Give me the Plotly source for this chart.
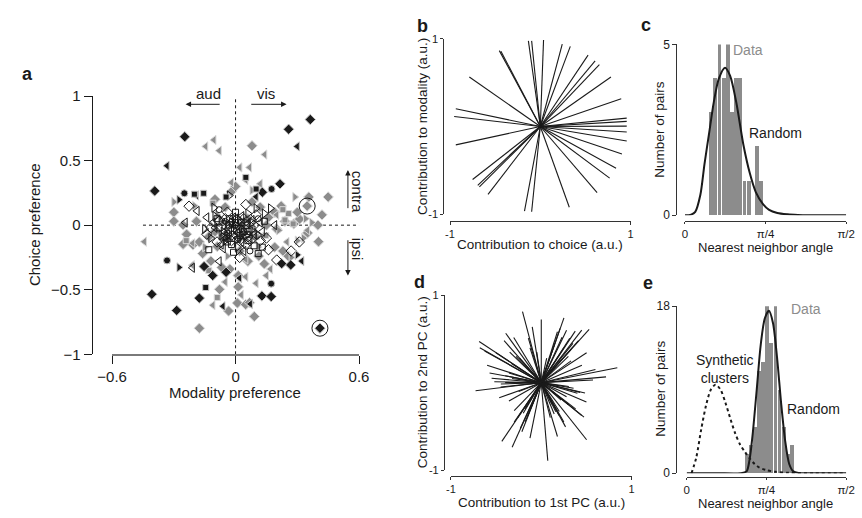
import plotly.graph_objects as go

W, H = 862, 518
FONT = "Liberation Sans, Arial, sans-serif"
INK = "#1a1a1a"
GREY = "#8c8c8c"


def fx(p):
    return p / W


def fy(p):
    return 1 - p / H


# ---------------- panel a: modality vs choice preference ----------------
gray_diamond_x = [0.080, 0.450, 0.356, 0.348, 0.403, 0.311, 0.283, 0.222, 0.190, 0.160,
                  -0.176, -0.078, -0.034, 0.009, 0.091, 0.049, -0.255, -0.255, -0.207, -0.238,
                  -0.176, -0.089, -0.120, -0.067, -0.028, 0.013, 0.113, 0.230, 0.256, 0.190,
                  0.350, 0.150, 0.200, 0.080, 0.120, -0.020, 0.000, -0.050, 0.060, -0.100,
                  -0.130, -0.040, 0.020, 0.060, -0.160, 0.140, -0.190, -0.100, 0.420, 0.300,
                  0.240, 0.013, 0.068, -0.300, -0.300, 0.400]
gray_diamond_y = [0.615, 0.218, 0.218, 0.148, -0.128, 0.047, 0.010, 0.148, 0.100, 0.060,
                  -0.798, -0.497, -0.665, -0.603, -0.707, -0.615, 0.002, -0.148, -0.153, -0.070,
                  -0.130, -0.165, -0.278, -0.327, -0.340, -0.390, -0.240, -0.200, -0.240, -0.170,
                  -0.060, 0.000, -0.030, 0.180, 0.140, 0.260, 0.300, 0.140, 0.050, -0.050,
                  -0.090, -0.100, -0.200, -0.280, -0.220, -0.300, 0.030, 0.200, 0.080, 0.100,
                  0.030, -0.478, -0.600, 0.100, 0.030, 0.000]

gray_tl_x = [-0.105, -0.145, -0.079, 0.142, 0.021, 0.068, -0.443, -0.208, 0.050, 0.150,
             0.050, 0.350, 0.028, -0.020, 0.050, 0.170, 0.250, 0.100, -0.050, 0.200,
             -0.110, -0.210, 0.120]
gray_tl_y = [0.660, 0.610, 0.577, 0.547, 0.447, 0.447, -0.128, -0.140, -0.400, -0.390,
             -0.265, -0.040, -0.540, 0.330, 0.350, -0.340, -0.130, -0.450, -0.440, 0.080,
             -0.620, -0.310, 0.320]

gray_tr_x = [0.288, 0.330, 0.370, 0.210, -0.150, -0.300, 0.080, -0.040, 0.270, 0.300,
             -0.200, 0.340, -0.090, 0.110]
gray_tr_y = [0.218, -0.100, 0.020, -0.040, -0.170, 0.180, 0.270, -0.240, -0.250, -0.120,
             0.150, 0.050, 0.080, -0.170]

gray_sq_x = [0.257, 0.280, 0.147, -0.089, -0.130, -0.110, 0.020, 0.230, -0.240, 0.240, 0.100]
gray_sq_y = [0.090, 0.010, -0.080, -0.560, -0.352, 0.170, -0.100, 0.120, -0.120, 0.040, -0.090]

open_tr_x = [-0.105, 0.100, 0.170, -0.030, 0.140, -0.070, 0.050, -0.150, 0.020, 0.090,
             -0.020, 0.030, -0.050, 0.110, -0.100, 0.060, 0.010, -0.120,
             0.000, -0.040, 0.050, 0.020, -0.060, -0.010, 0.040, -0.070, 0.080]
open_tr_y = [0.135, 0.130, 0.130, 0.230, 0.090, 0.040, 0.020, -0.030, -0.100, -0.050,
             0.020, -0.030, -0.120, -0.080, 0.070, 0.090, -0.170, -0.100,
             -0.020, 0.000, -0.080, 0.040, -0.050, -0.040, -0.060, -0.080, 0.020]

open_tl_x = [-0.187, -0.245, -0.140, 0.130, -0.210, -0.100, 0.080, 0.190, -0.060, 0.030,
             -0.080, 0.000, 0.070, -0.030, 0.120, -0.070, 0.040, -0.110,
             0.010, -0.020, 0.060, -0.050, 0.030, 0.020, -0.040, 0.090, -0.010]
open_tl_y = [0.110, 0.020, 0.060, -0.050, -0.330, -0.020, 0.040, 0.000, -0.180, 0.070,
             -0.280, 0.050, -0.100, -0.050, 0.020, -0.150, -0.200, 0.020,
             -0.060, 0.030, 0.010, -0.100, -0.130, -0.020, -0.070, -0.070, 0.060]

open_di_x = [-0.226, 0.050, -0.050, 0.270, 0.200, 0.310, -0.120, 0.120, 0.010, -0.090,
             0.160, 0.100, -0.020, 0.050, -0.080, 0.090, -0.040, 0.020, -0.140, 0.150,
             0.000, -0.030, 0.040, 0.070, -0.070, 0.030, -0.050, 0.060, -0.020]
open_di_y = [0.147, 0.160, -0.080, -0.200, -0.270, -0.130, -0.020, -0.120, 0.030, -0.130,
             -0.190, 0.080, -0.080, -0.150, 0.030, 0.000, 0.100, -0.250, -0.070, -0.100,
             -0.100, -0.030, 0.050, -0.120, -0.010, -0.040, 0.050, -0.090, -0.120]

open_sq_x = [-0.080, 0.060, 0.130, -0.030, 0.040, -0.130, 0.090, 0.140, -0.020, 0.000,
             0.030, -0.060, 0.080, -0.010, 0.110, -0.090,
             0.020, -0.040, 0.050, 0.000, -0.030, 0.060, 0.010]
open_sq_y = [-0.020, -0.120, -0.170, 0.050, -0.050, -0.190, -0.160, 0.030, -0.150, 0.100,
             0.020, -0.090, -0.030, -0.210, -0.220, 0.050,
             -0.080, -0.130, 0.000, 0.020, 0.000, -0.050, -0.110]

open_ci_x = [-0.080, 0.010, 0.110, -0.040, 0.070, 0.000, -0.050, 0.060]
open_ci_y = [0.120, -0.010, 0.050, -0.060, -0.200, 0.000, 0.030, -0.070]

black_diamond_x = [0.363, 0.258, -0.247, -0.393, 0.216, 0.224, 0.268, -0.153, -0.111, -0.046,
                   -0.407, -0.176, -0.286, 0.128, 0.173, 0.410, 0.130]
black_diamond_y = [0.818, 0.743, 0.685, 0.265, 0.320, -0.298, -0.308, -0.320, -0.390, -0.365,
                   -0.535, -0.565, -0.660, -0.548, -0.553, -0.798, 0.255]

black_circle_x = [-0.249, 0.175, -0.333, 0.173]
black_circle_y = [0.247, 0.280, -0.273, -0.453]

black_tl_x = [0.300, -0.333, 0.322, -0.061, 0.072, -0.190, 0.100, 0.020]
black_tl_y = [0.610, 0.460, -0.278, -0.628, -0.610, 0.230, 0.220, -0.410]

black_tr_x = [-0.275, -0.275, 0.300]
black_tr_y = [0.197, -0.327, -0.230]

black_sq_x = [0.050, -0.155, -0.046, 0.100, -0.145, -0.200]
black_sq_y = [0.370, 0.247, 0.218, 0.280, -0.483, 0.240]

circled_x = [0.348, 0.410]
circled_y = [0.148, -0.798]

# ---------------- panel b: choice / modality contributions ----------------
b_x = [-0.132, -0.096, 0.036, 0.243, 0.332, 0.529, 0.607, 0.654, 0.782, 0.896,
       0.957, 0.957, 0.957, 0.957, 0.957, 0.904, 0.839, 0.768, 0.629, 0.321,
       -0.096, -0.175, -0.579, -0.675, -0.693, -0.750, -0.936, -0.954, -0.936, -0.786,
       -0.454, -0.436]
b_y = [0.978, 0.978, 0.989, 0.941, 0.915, 0.815, 0.749, 0.708, 0.565, 0.317,
       0.096, 0.059, 0.004, -0.063, -0.166, -0.314, -0.476, -0.590, -0.756, -0.923,
       -0.974, -0.967, -0.775, -0.690, -0.672, -0.605, -0.210, 0.114, 0.203, 0.565,
       0.867, 0.860]

# ---------------- panel c: nearest-neighbour angles ----------------
c_bin_centers = [0.255, 0.296, 0.336, 0.377, 0.417, 0.458, 0.498, 0.539, 0.579, 0.620,
                 0.660, 0.701, 0.741]
c_bin_counts = [3, 4, 5, 4, 5, 3, 4, 4, 1, 1, 0, 2, 1]
c_rand_angle = [0.0, 0.06, 0.10, 0.15, 0.19, 0.24, 0.28, 0.33, 0.39, 0.44, 0.50, 0.57,
                0.63, 0.69, 0.76, 0.82, 0.90, 1.00, 1.10, 1.20, 1.571]
c_rand_count = [0.0, 0.02, 0.1, 0.6, 1.5, 2.5, 3.3, 4.0, 4.32, 4.08, 3.3, 2.05,
                1.25, 0.68, 0.33, 0.16, 0.07, 0.03, 0.01, 0.0, 0.0]

# ---------------- panel d: PC contributions ----------------
d_x = [-0.208, 0.000, -0.100, 0.251, 0.280, 0.376, 0.448, 0.530, 0.315, 0.412,
       0.502, 0.208, 0.179, 0.842, 0.717, 0.573, 0.430, 0.484, 0.358, 0.305,
       0.473, 0.448, 0.502, 0.179, 0.269, 0.197, 0.161, 0.143, 0.072, -0.125,
       -0.215, -0.323, -0.437, -0.233, -0.179, -0.466, -0.358, -0.251, -0.728, -0.573,
       -0.520, -0.448, -0.323, -0.358, -0.688, -0.681, -0.627, -0.502, -0.412, -0.305,
       -0.394, -0.143, -0.125, -0.300, -0.260, -0.200, -0.120, 0.350, 0.250, 0.300,
       0.450, 0.600, -0.550, -0.400, -0.600, 0.380, 0.300, 0.250, 0.100, 0.400,
       -0.280, -0.330, 0.220, 0.120, -0.050, 0.060, -0.450, 0.330, -0.180, 0.500,
       -0.350, -0.240, 0.150, 0.230, 0.330, -0.150, -0.300, 0.200, 0.280, -0.400]
d_y = [0.812, 0.723, 0.638, 0.742, 0.601, 0.590, 0.601, 0.609, 0.509, 0.480,
       0.343, 0.620, 0.583, 0.170, 0.066, 0.030, -0.111, -0.118, -0.063, -0.044,
       -0.395, -0.376, -0.653, -0.616, -0.506, -0.376, -0.332, -0.358, -0.893, -0.635,
       -0.561, -0.738, -0.672, -0.524, -0.450, -0.173, -0.210, -0.100, -0.092, 0.111,
       0.011, -0.015, 0.048, 0.111, 0.472, 0.399, 0.362, 0.343, 0.480, 0.517,
       0.565, 0.509, 0.399, -0.450, -0.400, -0.350, -0.300, 0.450, 0.400, 0.300,
       0.200, 0.150, 0.050, 0.080, 0.200, -0.300, -0.250, -0.450, -0.400, -0.120,
       0.300, 0.220, -0.200, -0.250, 0.350, 0.280, -0.050, 0.380, -0.300, -0.220,
       0.350, 0.280, 0.450, 0.520, 0.250, -0.380, -0.320, -0.330, -0.160, 0.000]

# ---------------- panel e: nearest-neighbour angles (PCs) ----------------
e_bin_centers = [0.587, 0.628, 0.668, 0.709, 0.749, 0.790, 0.830, 0.871, 0.911, 0.952,
                 0.992, 1.033]
e_bin_counts = [2, 3, 5, 11, 12, 18, 14, 18, 9, 5, 2, 3]
e_rand_angle = [0.0, 0.30, 0.53, 0.59, 0.62, 0.65, 0.69, 0.73, 0.77, 0.81, 0.85, 0.89,
                0.93, 0.97, 1.01, 1.05, 1.10, 1.30, 1.571]
e_rand_count = [0.0, 0.0, 0.0, 0.2, 1.5, 4.2, 9.0, 13.9, 16.7, 17.5, 16.2, 12.5,
                7.6, 3.5, 1.0, 0.2, 0.03, 0.0, 0.0]
e_syn_angle = [0.048, 0.095, 0.143, 0.191, 0.238, 0.286, 0.334, 0.382, 0.430, 0.478,
               0.526, 0.574, 0.621, 0.669, 0.717, 0.781, 0.876, 1.004, 1.259, 1.571]
e_syn_count = [0.0, 1.7, 4.7, 7.3, 9.0, 9.55, 9.0, 7.6, 5.9, 4.3,
               3.1, 2.3, 1.6, 1.0, 0.6, 0.35, 0.15, 0.05, 0.0, 0.0]

PI = 3.141592653589793
BAR_W = 0.037  # bin width minus a thin white separator

fig = go.Figure()


def markers(xs, ys, symbol, size, fill, edge, ew=1.0):
    fig.add_trace(go.Scatter(
        x=xs, y=ys, mode="markers", xaxis="x", yaxis="y", cliponaxis=False,
        marker=dict(symbol=symbol, size=size, color=fill,
                    line=dict(color=edge, width=ew)),
        hoverinfo="skip"))


# zero reference lines of panel a
fig.add_trace(go.Scatter(x=[-0.45, 0.61], y=[0, 0], mode="lines", xaxis="x", yaxis="y",
                         cliponaxis=False,
                         line=dict(color=INK, width=1, dash="3px,3px"), hoverinfo="skip"))
fig.add_trace(go.Scatter(x=[0, 0], y=[-1, 0.98], mode="lines", xaxis="x", yaxis="y",
                         cliponaxis=False,
                         line=dict(color=INK, width=1, dash="3px,3px"), hoverinfo="skip"))

G_EDGE = "#dadada"
markers(gray_diamond_x, gray_diamond_y, "diamond", 8, GREY, G_EDGE)
markers(gray_tl_x, gray_tl_y, "triangle-left", 8, GREY, G_EDGE)
markers(gray_tr_x, gray_tr_y, "triangle-right", 8, GREY, G_EDGE)
markers(gray_sq_x, gray_sq_y, "square", 6, GREY, G_EDGE)

# outline-only cells (transparent interior)
markers(open_tr_x, open_tr_y, "triangle-right-open", 8, INK, INK)
markers(open_tl_x, open_tl_y, "triangle-left-open", 8, INK, INK)
markers(open_di_x, open_di_y, "diamond-open", 8, INK, INK)
markers(open_sq_x, open_sq_y, "square-open", 6, INK, INK)
markers(open_ci_x, open_ci_y, "circle-open", 6, INK, INK)

B_EDGE = "#c8c8c8"
markers(black_diamond_x, black_diamond_y, "diamond", 8, INK, B_EDGE)
markers(black_circle_x, black_circle_y, "circle", 7, INK, B_EDGE)
markers(black_tl_x, black_tl_y, "triangle-left", 8, INK, B_EDGE)
markers(black_tr_x, black_tr_y, "triangle-right", 8, INK, B_EDGE)
markers(black_sq_x, black_sq_y, "square", 6, INK, B_EDGE)
markers(circled_x, circled_y, "circle-open", 16, INK, INK, 1.0)


def spokes(vx, vy, xa, ya):
    xs, ys = [], []
    for a, b in zip(vx, vy):
        xs += [0, a, None]
        ys += [0, b, None]
    fig.add_trace(go.Scatter(x=xs, y=ys, mode="lines", xaxis=xa, yaxis=ya,
                             line=dict(color=INK, width=1.1), hoverinfo="skip"))


spokes(b_x, b_y, "x2", "y2")
spokes(d_x, d_y, "x4", "y4")

# histograms with their null distributions
fig.add_trace(go.Bar(x=c_bin_centers, y=c_bin_counts, width=BAR_W, xaxis="x3", yaxis="y3",
                     marker=dict(color=GREY, line=dict(width=0)), hoverinfo="skip"))
fig.add_trace(go.Scatter(x=c_rand_angle, y=c_rand_count, mode="lines", xaxis="x3", yaxis="y3",
                         line=dict(color=INK, width=2, shape="spline", smoothing=0.8),
                         cliponaxis=False, hoverinfo="skip"))
fig.add_trace(go.Bar(x=e_bin_centers, y=e_bin_counts, width=BAR_W, xaxis="x5", yaxis="y5",
                     marker=dict(color=GREY, line=dict(width=0)), hoverinfo="skip"))
fig.add_trace(go.Scatter(x=e_syn_angle, y=e_syn_count, mode="lines", xaxis="x5", yaxis="y5",
                         line=dict(color=INK, width=2, dash="dot", shape="spline", smoothing=0.8),
                         cliponaxis=False, hoverinfo="skip"))
fig.add_trace(go.Scatter(x=e_rand_angle, y=e_rand_count, mode="lines", xaxis="x5", yaxis="y5",
                         line=dict(color=INK, width=2, shape="spline", smoothing=0.8),
                         cliponaxis=False, hoverinfo="skip"))

AX = "#333333"
base = dict(showgrid=False, zeroline=False, showline=True, linecolor=AX, linewidth=1,
            ticks="outside", tickcolor=AX, tickwidth=1, fixedrange=True,
            tickfont=dict(family=FONT, size=11, color=INK))

lay = dict(
    width=W, height=H, margin=dict(l=0, r=0, t=0, b=0),
    paper_bgcolor="white", plot_bgcolor="white", showlegend=False,
    font=dict(family=FONT, color=INK), bargap=0, barmode="overlay",
)

# panel a axes
lay["xaxis"] = dict(base, domain=[fx(100), fx(354.3)], range=[-0.6, 0.6], anchor="y",
                    linecolor="#7a7a7a", linewidth=2, ticklen=8, tickcolor=INK,
                    tickvals=[-0.6, 0, 0.6], ticktext=["\u22120.6", "0", "0.6"],
                    tickfont=dict(family=FONT, size=15, color=INK))
lay["yaxis"] = dict(base, domain=[fy(357), fy(90)], range=[-1, 1], anchor="free",
                    position=fx(79), linecolor=INK, ticklen=8, tickcolor=INK,
                    tickvals=[-1, -0.5, 0, 0.5, 1],
                    ticktext=["\u22121", "\u22120.5", "0", "0.5", "1"],
                    tickfont=dict(family=FONT, size=15, color=INK))

# panel b axes
lay["xaxis2"] = dict(base, domain=[fx(448), fx(634)], range=[-1, 1], anchor="free",
                     position=fy(219), ticklen=3, tickvals=[-1, 1], ticktext=["-1", "1"])
lay["yaxis2"] = dict(base, domain=[fy(212), fy(31)], range=[-1, 1], anchor="free",
                     position=fx(441), ticklen=3, tickvals=[-1, 1], ticktext=["-1", "1"])

# panel c axes
lay["xaxis3"] = dict(base, domain=[fx(690), fx(856)], range=[0, PI / 2], anchor="free",
                     position=fy(219), ticklen=2, tickvals=[0, PI / 4, PI / 2],
                     ticktext=["0", "\u03c0/4", "\u03c0/2"],
                     tickfont=dict(family=FONT, size=11.5, color=INK))
lay["yaxis3"] = dict(base, domain=[fy(213.3), fy(36.7)], range=[0, 5], anchor="free",
                     position=fx(681), ticklen=4, tickvals=[0, 5], ticktext=["0", "5"],
                     tickfont=dict(family=FONT, size=12, color=INK))

# panel d axes
lay["xaxis4"] = dict(base, domain=[fx(449), fx(635)], range=[-1, 1], anchor="free",
                     position=fy(483), ticklen=3, tickvals=[-1, 1], ticktext=["-1", "1"])
lay["yaxis4"] = dict(base, domain=[fy(476.7), fy(296)], range=[-1, 1], anchor="free",
                     position=fx(441.7), ticklen=3, tickvals=[-1, 1], ticktext=["-1", "1"])

# panel e axes
lay["xaxis5"] = dict(base, domain=[fx(691.7), fx(856)], range=[0, PI / 2], anchor="free",
                     position=fy(484.3), ticklen=2, tickvals=[0, PI / 4, PI / 2],
                     ticktext=["0", "\u03c0/4", "\u03c0/2"],
                     tickfont=dict(family=FONT, size=11.5, color=INK))
lay["yaxis5"] = dict(base, domain=[fy(480), fy(307.3)], range=[0, 18], anchor="free",
                     position=fx(681), ticklen=4, tickvals=[0, 18], ticktext=["0", "18"],
                     tickfont=dict(family=FONT, size=12, color=INK))

fig.update_layout(**lay)


def ptext(txt, x, y, size=14, color=INK, angle=0, bold=False, xanchor="center"):
    fig.add_annotation(text=f"<b>{txt}</b>" if bold else txt, x=fx(x), y=fy(y),
                       xref="paper", yref="paper", showarrow=False, textangle=angle,
                       xanchor=xanchor, yanchor="middle",
                       font=dict(family=FONT, size=size, color=color))


# panel letters
ptext("a", 13, 67, 18, bold=True)
ptext("b", 420, 18, 18, bold=True)
ptext("c", 650, 17, 18, bold=True)
ptext("d", 417, 282, 18, bold=True)
ptext("e", 652, 283, 18, bold=True)

# axis titles
ptext("Modality preference", 227, 397, 15)
ptext("Choice preference", 20, 223, 15, angle=-90)
ptext("Contribution to choice (a.u.)", 541, 243, 13.5)
ptext("Contribution to modality (a.u.)", 419, 121, 13.5, angle=-90)
ptext("Nearest neighbor angle", 773, 247, 13)
ptext("Number of pairs", 664, 125, 13.5, angle=-90)
ptext("Contribution to 1st PC (a.u.)", 542, 510, 13.5)
ptext("Contribution to 2nd PC (a.u.)", 419, 386, 13.5, angle=-90)
ptext("Nearest neighbor angle", 773, 511, 13)
ptext("Number of pairs", 664, 393, 13.5, angle=-90)

# curve / bar labels
ptext("Data", 737.7, 42, 14, color=GREY, xanchor="left")
ptext("Random", 754, 128, 14, xanchor="left")
ptext("Data", 796.7, 310, 14, color=GREY, xanchor="left")
ptext("Random", 792.7, 414, 14, xanchor="left")
ptext("Synthetic<br>clusters", 699.3, 372, 14, xanchor="left")

# direction labels above panel a
ptext("aud", 199, 87, 15)
ptext("vis", 259, 87, 15)


def data_text(txt, x, y, angle=0):
    fig.add_annotation(text=txt, x=x, y=y, xref="x", yref="y", showarrow=False,
                       textangle=angle, font=dict(family=FONT, size=15, color=INK))


def data_arrow(x0, y0, x1, y1):
    fig.add_annotation(text="", x=x1, y=y1, ax=x0, ay=y0, xref="x", yref="y",
                       axref="x", ayref="y", showarrow=True, arrowhead=2,
                       arrowsize=1.1, arrowwidth=1, arrowcolor=INK)


data_arrow(-0.07, 0.936, -0.243, 0.936)
data_arrow(0.069, 0.936, 0.248, 0.936)
data_text("contra", 0.593, 0.262, angle=90)
data_text("ipsi", 0.593, -0.187, angle=90)
data_arrow(0.546, 0.12, 0.546, 0.427)
data_arrow(0.546, -0.105, 0.546, -0.39)

fig.write_html("out.html",
               post_script="document.body.style.margin='0';document.body.style.overflow='hidden';")
